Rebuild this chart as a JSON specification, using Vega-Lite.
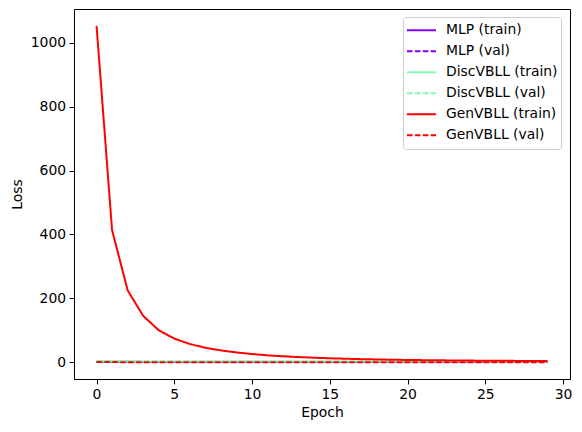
{
  "$schema": "https://vega.github.io/schema/vega-lite/v6.json",
  "width": 496,
  "height": 370,
  "autosize": "none",
  "padding": {"left": 74, "top": 9, "right": 12, "bottom": 53},
  "background": "white",
  "config": {
    "font": "DejaVu Sans",
    "view": {"stroke": "black", "strokeWidth": 1},
    "axis": {
      "grid": false,
      "labelFont": "DejaVu Sans",
      "labelFontSize": 13.9,
      "labelColor": "black",
      "titleFont": "DejaVu Sans",
      "titleFontSize": 13.9,
      "titleFontWeight": "normal",
      "titleColor": "black",
      "tickColor": "black",
      "tickSize": 4.9,
      "tickWidth": 1,
      "domainColor": "black",
      "domainWidth": 1,
      "labelPadding": 3.5
    },
    "legend": {
      "orient": "none",
      "legendX": 329,
      "legendY": 8,
      "strokeColor": "#cccccc",
      "fillColor": "rgba(255,255,255,0.8)",
      "cornerRadius": 3,
      "padding": 3,
      "labelFont": "DejaVu Sans",
      "labelFontSize": 13.9,
      "labelColor": "black",
      "symbolType": "stroke",
      "symbolSize": 841,
      "symbolStrokeWidth": 2,
      "labelOffset": 9,
      "clipHeight": 20.6,
      "rowPadding": 0
    }
  },
  "data": {
    "values": [
      {"epoch":0,"series":"MLP (train)","loss":1.6},{"epoch":1,"series":"MLP (train)","loss":1.2},{"epoch":2,"series":"MLP (train)","loss":1.1},{"epoch":3,"series":"MLP (train)","loss":1.0},{"epoch":4,"series":"MLP (train)","loss":1.0},{"epoch":5,"series":"MLP (train)","loss":0.95},{"epoch":6,"series":"MLP (train)","loss":0.95},{"epoch":7,"series":"MLP (train)","loss":0.9},{"epoch":8,"series":"MLP (train)","loss":0.9},{"epoch":9,"series":"MLP (train)","loss":0.9},{"epoch":10,"series":"MLP (train)","loss":0.9},{"epoch":11,"series":"MLP (train)","loss":0.88},{"epoch":12,"series":"MLP (train)","loss":0.88},{"epoch":13,"series":"MLP (train)","loss":0.87},{"epoch":14,"series":"MLP (train)","loss":0.87},{"epoch":15,"series":"MLP (train)","loss":0.86},{"epoch":16,"series":"MLP (train)","loss":0.86},{"epoch":17,"series":"MLP (train)","loss":0.85},{"epoch":18,"series":"MLP (train)","loss":0.85},{"epoch":19,"series":"MLP (train)","loss":0.85},{"epoch":20,"series":"MLP (train)","loss":0.84},{"epoch":21,"series":"MLP (train)","loss":0.84},{"epoch":22,"series":"MLP (train)","loss":0.84},{"epoch":23,"series":"MLP (train)","loss":0.83},{"epoch":24,"series":"MLP (train)","loss":0.83},{"epoch":25,"series":"MLP (train)","loss":0.83},{"epoch":26,"series":"MLP (train)","loss":0.82},{"epoch":27,"series":"MLP (train)","loss":0.82},{"epoch":28,"series":"MLP (train)","loss":0.82},{"epoch":29,"series":"MLP (train)","loss":0.82},
      {"epoch":0,"series":"MLP (val)","loss":1.1},{"epoch":1,"series":"MLP (val)","loss":1.0},{"epoch":2,"series":"MLP (val)","loss":0.95},{"epoch":3,"series":"MLP (val)","loss":0.93},{"epoch":4,"series":"MLP (val)","loss":0.92},{"epoch":5,"series":"MLP (val)","loss":0.92},{"epoch":6,"series":"MLP (val)","loss":0.91},{"epoch":7,"series":"MLP (val)","loss":0.91},{"epoch":8,"series":"MLP (val)","loss":0.9},{"epoch":9,"series":"MLP (val)","loss":0.9},{"epoch":10,"series":"MLP (val)","loss":0.9},{"epoch":11,"series":"MLP (val)","loss":0.9},{"epoch":12,"series":"MLP (val)","loss":0.9},{"epoch":13,"series":"MLP (val)","loss":0.9},{"epoch":14,"series":"MLP (val)","loss":0.9},{"epoch":15,"series":"MLP (val)","loss":0.9},{"epoch":16,"series":"MLP (val)","loss":0.9},{"epoch":17,"series":"MLP (val)","loss":0.9},{"epoch":18,"series":"MLP (val)","loss":0.9},{"epoch":19,"series":"MLP (val)","loss":0.9},{"epoch":20,"series":"MLP (val)","loss":0.9},{"epoch":21,"series":"MLP (val)","loss":0.9},{"epoch":22,"series":"MLP (val)","loss":0.9},{"epoch":23,"series":"MLP (val)","loss":0.9},{"epoch":24,"series":"MLP (val)","loss":0.9},{"epoch":25,"series":"MLP (val)","loss":0.9},{"epoch":26,"series":"MLP (val)","loss":0.9},{"epoch":27,"series":"MLP (val)","loss":0.9},{"epoch":28,"series":"MLP (val)","loss":0.9},{"epoch":29,"series":"MLP (val)","loss":0.9},
      {"epoch":0,"series":"DiscVBLL (train)","loss":3.2},{"epoch":1,"series":"DiscVBLL (train)","loss":2.8},{"epoch":2,"series":"DiscVBLL (train)","loss":2.6},{"epoch":3,"series":"DiscVBLL (train)","loss":2.5},{"epoch":4,"series":"DiscVBLL (train)","loss":2.4},{"epoch":5,"series":"DiscVBLL (train)","loss":2.3},{"epoch":6,"series":"DiscVBLL (train)","loss":2.25},{"epoch":7,"series":"DiscVBLL (train)","loss":2.2},{"epoch":8,"series":"DiscVBLL (train)","loss":2.15},{"epoch":9,"series":"DiscVBLL (train)","loss":2.1},{"epoch":10,"series":"DiscVBLL (train)","loss":2.1},{"epoch":11,"series":"DiscVBLL (train)","loss":2.05},{"epoch":12,"series":"DiscVBLL (train)","loss":2.0},{"epoch":13,"series":"DiscVBLL (train)","loss":2.0},{"epoch":14,"series":"DiscVBLL (train)","loss":1.95},{"epoch":15,"series":"DiscVBLL (train)","loss":1.95},{"epoch":16,"series":"DiscVBLL (train)","loss":1.9},{"epoch":17,"series":"DiscVBLL (train)","loss":1.9},{"epoch":18,"series":"DiscVBLL (train)","loss":1.9},{"epoch":19,"series":"DiscVBLL (train)","loss":1.85},{"epoch":20,"series":"DiscVBLL (train)","loss":1.85},{"epoch":21,"series":"DiscVBLL (train)","loss":1.85},{"epoch":22,"series":"DiscVBLL (train)","loss":1.8},{"epoch":23,"series":"DiscVBLL (train)","loss":1.8},{"epoch":24,"series":"DiscVBLL (train)","loss":1.8},{"epoch":25,"series":"DiscVBLL (train)","loss":1.8},{"epoch":26,"series":"DiscVBLL (train)","loss":1.75},{"epoch":27,"series":"DiscVBLL (train)","loss":1.75},{"epoch":28,"series":"DiscVBLL (train)","loss":1.75},{"epoch":29,"series":"DiscVBLL (train)","loss":1.75},
      {"epoch":0,"series":"DiscVBLL (val)","loss":2.6},{"epoch":1,"series":"DiscVBLL (val)","loss":2.4},{"epoch":2,"series":"DiscVBLL (val)","loss":2.3},{"epoch":3,"series":"DiscVBLL (val)","loss":2.2},{"epoch":4,"series":"DiscVBLL (val)","loss":2.2},{"epoch":5,"series":"DiscVBLL (val)","loss":2.1},{"epoch":6,"series":"DiscVBLL (val)","loss":2.1},{"epoch":7,"series":"DiscVBLL (val)","loss":2.05},{"epoch":8,"series":"DiscVBLL (val)","loss":2.0},{"epoch":9,"series":"DiscVBLL (val)","loss":2.0},{"epoch":10,"series":"DiscVBLL (val)","loss":2.0},{"epoch":11,"series":"DiscVBLL (val)","loss":1.95},{"epoch":12,"series":"DiscVBLL (val)","loss":1.95},{"epoch":13,"series":"DiscVBLL (val)","loss":1.95},{"epoch":14,"series":"DiscVBLL (val)","loss":1.9},{"epoch":15,"series":"DiscVBLL (val)","loss":1.9},{"epoch":16,"series":"DiscVBLL (val)","loss":1.9},{"epoch":17,"series":"DiscVBLL (val)","loss":1.9},{"epoch":18,"series":"DiscVBLL (val)","loss":1.85},{"epoch":19,"series":"DiscVBLL (val)","loss":1.85},{"epoch":20,"series":"DiscVBLL (val)","loss":1.85},{"epoch":21,"series":"DiscVBLL (val)","loss":1.85},{"epoch":22,"series":"DiscVBLL (val)","loss":1.85},{"epoch":23,"series":"DiscVBLL (val)","loss":1.8},{"epoch":24,"series":"DiscVBLL (val)","loss":1.8},{"epoch":25,"series":"DiscVBLL (val)","loss":1.8},{"epoch":26,"series":"DiscVBLL (val)","loss":1.8},{"epoch":27,"series":"DiscVBLL (val)","loss":1.8},{"epoch":28,"series":"DiscVBLL (val)","loss":1.8},{"epoch":29,"series":"DiscVBLL (val)","loss":1.8},
      {"epoch":0,"series":"GenVBLL (train)","loss":1053},{"epoch":1,"series":"GenVBLL (train)","loss":413},{"epoch":2,"series":"GenVBLL (train)","loss":225},{"epoch":3,"series":"GenVBLL (train)","loss":145},{"epoch":4,"series":"GenVBLL (train)","loss":100},{"epoch":5,"series":"GenVBLL (train)","loss":74},{"epoch":6,"series":"GenVBLL (train)","loss":57},{"epoch":7,"series":"GenVBLL (train)","loss":45},{"epoch":8,"series":"GenVBLL (train)","loss":37},{"epoch":9,"series":"GenVBLL (train)","loss":30.5},{"epoch":10,"series":"GenVBLL (train)","loss":25.5},{"epoch":11,"series":"GenVBLL (train)","loss":21.5},{"epoch":12,"series":"GenVBLL (train)","loss":18.5},{"epoch":13,"series":"GenVBLL (train)","loss":16},{"epoch":14,"series":"GenVBLL (train)","loss":14},{"epoch":15,"series":"GenVBLL (train)","loss":12.2},{"epoch":16,"series":"GenVBLL (train)","loss":10.8},{"epoch":17,"series":"GenVBLL (train)","loss":9.6},{"epoch":18,"series":"GenVBLL (train)","loss":8.6},{"epoch":19,"series":"GenVBLL (train)","loss":7.7},{"epoch":20,"series":"GenVBLL (train)","loss":7.0},{"epoch":21,"series":"GenVBLL (train)","loss":6.4},{"epoch":22,"series":"GenVBLL (train)","loss":5.9},{"epoch":23,"series":"GenVBLL (train)","loss":5.4},{"epoch":24,"series":"GenVBLL (train)","loss":5.0},{"epoch":25,"series":"GenVBLL (train)","loss":4.7},{"epoch":26,"series":"GenVBLL (train)","loss":4.4},{"epoch":27,"series":"GenVBLL (train)","loss":4.1},{"epoch":28,"series":"GenVBLL (train)","loss":3.8},{"epoch":29,"series":"GenVBLL (train)","loss":3.6},
      {"epoch":0,"series":"GenVBLL (val)","loss":0.6},{"epoch":1,"series":"GenVBLL (val)","loss":0.3},{"epoch":2,"series":"GenVBLL (val)","loss":0.1},{"epoch":3,"series":"GenVBLL (val)","loss":0.0},{"epoch":4,"series":"GenVBLL (val)","loss":-0.1},{"epoch":5,"series":"GenVBLL (val)","loss":-0.2},{"epoch":6,"series":"GenVBLL (val)","loss":-0.2},{"epoch":7,"series":"GenVBLL (val)","loss":-0.3},{"epoch":8,"series":"GenVBLL (val)","loss":-0.3},{"epoch":9,"series":"GenVBLL (val)","loss":-0.3},{"epoch":10,"series":"GenVBLL (val)","loss":-0.35},{"epoch":11,"series":"GenVBLL (val)","loss":-0.35},{"epoch":12,"series":"GenVBLL (val)","loss":-0.4},{"epoch":13,"series":"GenVBLL (val)","loss":-0.4},{"epoch":14,"series":"GenVBLL (val)","loss":-0.4},{"epoch":15,"series":"GenVBLL (val)","loss":-0.4},{"epoch":16,"series":"GenVBLL (val)","loss":-0.45},{"epoch":17,"series":"GenVBLL (val)","loss":-0.45},{"epoch":18,"series":"GenVBLL (val)","loss":-0.45},{"epoch":19,"series":"GenVBLL (val)","loss":-0.45},{"epoch":20,"series":"GenVBLL (val)","loss":-0.5},{"epoch":21,"series":"GenVBLL (val)","loss":-0.5},{"epoch":22,"series":"GenVBLL (val)","loss":-0.5},{"epoch":23,"series":"GenVBLL (val)","loss":-0.5},{"epoch":24,"series":"GenVBLL (val)","loss":-0.5},{"epoch":25,"series":"GenVBLL (val)","loss":-0.5},{"epoch":26,"series":"GenVBLL (val)","loss":-0.5},{"epoch":27,"series":"GenVBLL (val)","loss":-0.5},{"epoch":28,"series":"GenVBLL (val)","loss":-0.5},{"epoch":29,"series":"GenVBLL (val)","loss":-0.5}
    ]
  },
  "mark": {"type": "line", "strokeWidth": 2, "clip": true},
  "encoding": {
    "x": {
      "field": "epoch",
      "type": "quantitative",
      "scale": {"domain": [-1.45, 30.45], "nice": false, "zero": false},
      "axis": {"values": [0, 5, 10, 15, 20, 25, 30], "format": "d", "title": "Epoch", "titlePadding": 4, "labelFlush": false}
    },
    "y": {
      "field": "loss",
      "type": "quantitative",
      "scale": {"domain": [-52.6, 1105.6], "nice": false, "zero": false},
      "axis": {"values": [0, 200, 400, 600, 800, 1000], "format": "d", "title": "Loss", "titlePadding": 6, "labelFlush": false}
    },
    "color": {
      "field": "series",
      "type": "nominal",
      "sort": ["MLP (train)", "MLP (val)", "DiscVBLL (train)", "DiscVBLL (val)", "GenVBLL (train)", "GenVBLL (val)"],
      "scale": {
        "domain": ["MLP (train)", "MLP (val)", "DiscVBLL (train)", "DiscVBLL (val)", "GenVBLL (train)", "GenVBLL (val)"],
        "range": ["#8000ff", "#8000ff", "#80ffb4", "#80ffb4", "#ff0000", "#ff0000"]
      },
      "legend": {"title": null}
    },
    "strokeDash": {
      "field": "series",
      "type": "nominal",
      "sort": ["MLP (train)", "MLP (val)", "DiscVBLL (train)", "DiscVBLL (val)", "GenVBLL (train)", "GenVBLL (val)"],
      "scale": {
        "domain": ["MLP (train)", "MLP (val)", "DiscVBLL (train)", "DiscVBLL (val)", "GenVBLL (train)", "GenVBLL (val)"],
        "range": [[1, 0], [5.5, 2.4], [1, 0], [5.5, 2.4], [1, 0], [5.5, 2.4]]
      },
      "legend": {"title": null}
    },
    "order": {"field": "epoch", "type": "quantitative"}
  }
}
